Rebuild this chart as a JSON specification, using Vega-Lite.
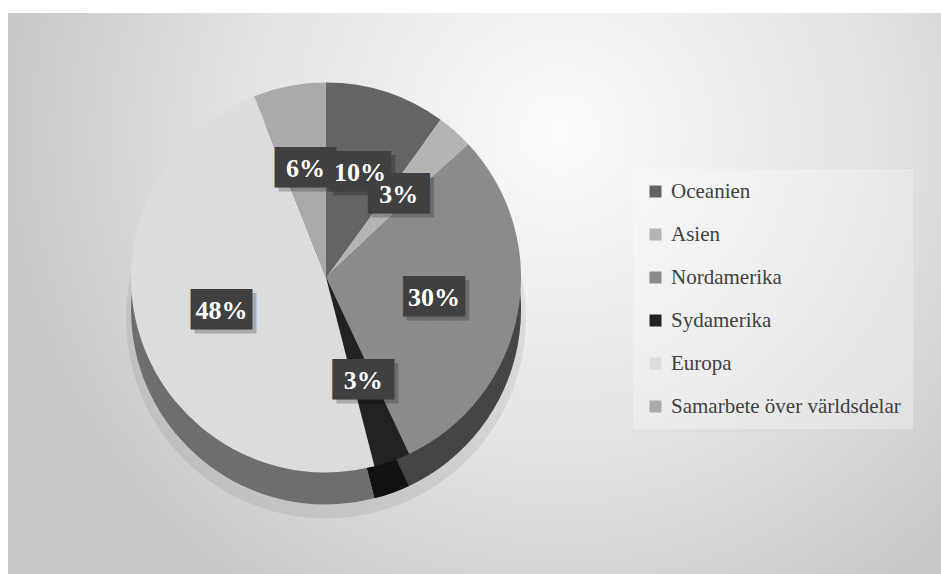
{
  "$schema": "https://vega.github.io/schema/vega-lite/v6.json",
  "padding": {"left": 8, "top": 13, "right": 0, "bottom": 0},
  "background": "#ffffff",
  "spacing": 0,
  "config": {"view": {"stroke": null}},
  "datasets": {
    "shares": [
      {"idx": 1, "region": "Oceanien", "share": 0.10},
      {"idx": 2, "region": "Asien", "share": 0.03},
      {"idx": 3, "region": "Nordamerika", "share": 0.30},
      {"idx": 4, "region": "Sydamerika", "share": 0.03},
      {"idx": 5, "region": "Europa", "share": 0.48},
      {"idx": 6, "region": "Samarbete över världsdelar", "share": 0.06}
    ]
  },
  "hconcat": [
    {
      "width": 636,
      "height": 561,
      "view": {
        "stroke": null,
        "fill": {
          "gradient": "radial",
          "x1": 0.868, "y1": 0.249, "r1": 0,
          "x2": 0.868, "y2": 0.249, "r2": 0.8805,
          "stops": [
            {"offset": 0, "color": "#fbfbfb"},
            {"offset": 0.5, "color": "#e6e6e6"},
            {"offset": 1, "color": "#c8c8c8"}
          ]
        }
      },
      "data": {"name": "shares"},
      "encoding": {
        "theta": {"field": "share", "type": "quantitative", "stack": true},
        "order": {"field": "idx", "type": "quantitative"},
        "detail": {"field": "region", "type": "nominal"}
      },
      "layer": [
        {
          "mark": {"type": "arc", "outerRadius": 200, "yOffset": 25, "fill": "#000000", "opacity": 0.07}
        },
        {
          "mark": {"type": "arc", "outerRadius": 195, "yOffset": 16},
          "encoding": {
            "color": {"field": "region", "type": "nominal"}
          }
        },
        {
          "mark": {"type": "arc", "outerRadius": 195, "yOffset": 16, "fill": "#000000", "opacity": 0.5}
        },
        {
          "mark": {"type": "arc", "outerRadius": 195, "yOffset": -16},
          "encoding": {
            "color": {
              "field": "region", "type": "nominal",
              "scale": {
                "domain": ["Oceanien", "Asien", "Nordamerika", "Sydamerika", "Europa", "Samarbete över världsdelar"],
                "range": ["#646464", "#b4b4b4", "#8b8b8b", "#222222", "#dcdcdc", "#aaaaaa"]
              },
              "legend": {
                "orient": "none",
                "legendX": 625,
                "legendY": 156,
                "title": null,
                "symbolType": "square",
                "symbolSize": 144,
                "symbolStrokeWidth": 0,
                "symbolOpacity": 1,
                "labelFont": "Liberation Serif, Times New Roman, DejaVu Serif, serif",
                "labelFontSize": 21,
                "labelColor": "#404040",
                "labelOffset": 5,
                "labelLimit": 400,
                "rowPadding": 21,
                "padding": 12,
                "fillColor": "rgba(255,255,255,0.3)",
                "strokeColor": null
              }
            }
          }
        },
        {
          "mark": {"type": "text", "radius": 110, "yOffset": -16, "dx": 4, "dy": 4, "text": "███", "font": "DejaVu Sans Mono", "fontSize": 34, "fill": "#000000", "opacity": 0.22, "baseline": "middle", "align": "center"}
        },
        {
          "mark": {"type": "text", "radius": 110, "yOffset": -16, "text": "███", "font": "DejaVu Sans Mono", "fontSize": 34, "fill": "#404040", "baseline": "middle", "align": "center"}
        },
        {
          "mark": {"type": "text", "radius": 110, "yOffset": -16, "font": "Liberation Serif, Times New Roman, DejaVu Serif, serif", "fontSize": 26, "fontWeight": "bold", "fill": "#ffffff", "baseline": "middle", "align": "center"},
          "encoding": {"text": {"field": "share", "type": "quantitative", "format": ".0%"}}
        }
      ]
    },
    {
      "width": 297,
      "height": 561,
      "view": {
        "stroke": null,
        "fill": {
          "gradient": "radial",
          "x1": 0.0856, "y1": 0.2157, "r1": 0,
          "x2": 0.0856, "y2": 0.2157, "r2": 0.998,
          "stops": [
            {"offset": 0, "color": "#fbfbfb"},
            {"offset": 0.5, "color": "#e6e6e6"},
            {"offset": 1, "color": "#c8c8c8"}
          ]
        }
      },
      "data": {"values": [{}]},
      "mark": {"type": "text", "text": ""}
    }
  ]
}
